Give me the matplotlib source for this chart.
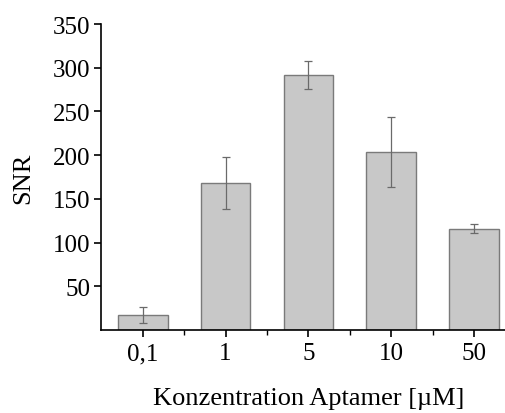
import numpy as np
import matplotlib
matplotlib.use('Agg')
import matplotlib.pyplot as plt

plt.rcParams['font.family'] = ['Liberation Serif', 'DejaVu Serif']

labels = ['0,1', '1', '5', '10', '50']
snr = [17, 168, 292, 204, 116]
err = [9.5, 30, 16, 40, 5]
yticks = [50, 100, 150, 200, 250, 300, 350]

fig = plt.figure(figsize=(5.06, 4.14), dpi=100)
ax = fig.add_axes([0.2, 0.2005, 0.819, 0.739])

x = np.arange(len(labels))
ax.bar(x, snr, width=0.6, color='#c8c8c8', edgecolor='#7a7a7a', linewidth=1.0, zorder=2)
ax.errorbar(x, snr, yerr=err, fmt='none', ecolor='#6a6a6a', elinewidth=0.9,
            capsize=3, capthick=0.9, zorder=3)

ax.set_xlim(-0.5, 4.5)
ax.set_ylim(0, 350)
ax.set_xticks(x)
ax.set_xticklabels(labels)
ax.set_xticks(x[:-1] + 0.5, minor=True)
ax.set_yticks(yticks)

for s in ['top', 'right']:
    ax.spines[s].set_visible(False)
for s in ['left', 'bottom']:
    ax.spines[s].set_linewidth(1.2)

ax.tick_params(axis='both', which='major', direction='out', length=5, width=1.2,
               labelsize=18, pad=3)
ax.tick_params(axis='x', which='minor', direction='out', length=3.5, width=1.0)
ax.tick_params(axis='x', which='major', pad=4)

ax.set_ylabel('SNR', fontsize=19, labelpad=13)
ax.set_xlabel('Konzentration Aptamer [µM]', fontsize=19, labelpad=16.5)

plt.savefig('out.png')
